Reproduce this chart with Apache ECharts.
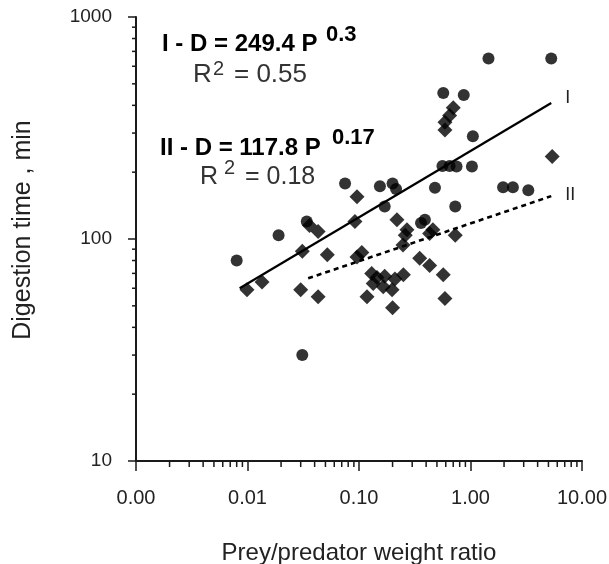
<!DOCTYPE html>
<html>
<head>
<meta charset="utf-8">
<script src="https://cdn.jsdelivr.net/npm/echarts@6/dist/echarts.min.js"></script>
<style>html,body{margin:0;padding:0;background:#fff}#c{width:609px;height:564px}</style>
</head>
<body>
<div id="c"></div>
<script>
// ---- data ----
const circlePoints = [
  [0.008, 80], [0.019, 104], [0.031, 30], [0.034, 120], [0.075, 178],
  [0.154, 173], [0.20, 178], [0.215, 168], [0.17, 140], [0.48, 170], [0.73, 140],
  [0.56, 213], [0.65, 213], [0.75, 212], [1.03, 212],
  [1.96, 171], [2.4, 171], [3.3, 166],
  [1.45, 650], [5.3, 650], [0.57, 455], [0.87, 445], [1.05, 290],
  [0.39, 122], [0.36, 118]
];
const diamondPoints = [
  [0.0099, 59], [0.0135, 64], [0.030, 59], [0.043, 55], [0.031, 88], [0.052, 85],
  [0.043, 108], [0.036, 115], [0.092, 120], [0.096, 155], [0.106, 87], [0.096, 83],
  [0.118, 55], [0.20, 49], [0.198, 59], [0.145, 67], [0.25, 69], [0.13, 70],
  [0.17, 68], [0.21, 66], [0.134, 63], [0.165, 61],
  [0.219, 122], [0.269, 110], [0.248, 94], [0.26, 104], [0.46, 110],
  [0.35, 82], [0.43, 76], [0.57, 69], [0.59, 54], [0.73, 104], [0.43, 106],
  [0.70, 390], [0.65, 360], [0.59, 336], [0.59, 310], [5.4, 235]
];
const fitLineI = [[0.0085, 60], [5.3, 410]];
const fitLineII = [[0.035, 66.5], [5.3, 156]];
const xTickLabels = ['0.00', '0.01', '0.10', '1.00', '10.00'];
const yTickLabels = ['10', '100', '1000'];
const xMinorTicks = [0.002,0.003,0.004,0.005,0.006,0.007,0.008,0.009,
  0.02,0.03,0.04,0.05,0.06,0.07,0.08,0.09,
  0.2,0.3,0.4,0.5,0.6,0.7,0.8,0.9,
  2,3,4,5,6,7,8,9];
const yMinorTicks = [20,30,40,50,60,70,80,90,200,300,400,500,600,700,800,900];
const xTitle = 'Prey/predator weight ratio';
const yTitle = 'Digestion time , min';

const FONT = '"Liberation Sans", Arial, sans-serif';
const INK = '#1a1a1a';
const chart = echarts.init(document.getElementById('c'), null, {renderer: 'canvas'});

function minorX(params, api) {
  const p = api.coord([api.value(0), api.value(1)]);
  return {type: 'line', shape: {x1: p[0], y1: p[1], x2: p[0], y2: p[1] + 6},
    style: {stroke: INK, lineWidth: 1.5}};
}
function minorY(params, api) {
  const p = api.coord([api.value(0), api.value(1)]);
  return {type: 'line', shape: {x1: p[0], y1: p[1], x2: p[0] - 4, y2: p[1]},
    style: {stroke: INK, lineWidth: 1.5}};
}

const option = {
  animation: false,
  backgroundColor: '#fff',
  grid: {left: 136, right: 27, top: 17, bottom: 103, containLabel: false, outerBoundsMode: 'none'},
  xAxis: {
    type: 'log', logBase: 10, min: 0.001, max: 10, splitNumber: 4,
    name: xTitle, nameLocation: 'middle', nameGap: 80,
    nameTextStyle: {fontFamily: FONT, fontSize: 24, color: '#222'},
    axisLine: {lineStyle: {color: INK, width: 2}},
    axisTick: {show: true, length: 10, lineStyle: {color: INK, width: 1.5}},
    minorTick: {show: false},
    splitLine: {show: false},
    axisLabel: {
      fontFamily: FONT, fontSize: 20, color: '#222', margin: 27,
      formatter: v => xTickLabels[Math.round(Math.log10(v)) + 3]
    }
  },
  yAxis: {
    type: 'log', logBase: 10, min: 10, max: 1000, splitNumber: 2,
    name: yTitle, nameLocation: 'middle', nameGap: 100, nameRotate: 90,
    nameTextStyle: {fontFamily: FONT, fontSize: 25, color: '#222', padding: [0, 0, 0, 18]},
    axisLine: {lineStyle: {color: INK, width: 2}},
    axisTick: {show: true, length: 8, lineStyle: {color: INK, width: 1.5}},
    splitLine: {show: false},
    axisLabel: {
      fontFamily: FONT, fontSize: 19, color: '#222', margin: 24,
      formatter: v => yTickLabels[Math.round(Math.log10(v)) - 1]
    }
  },
  series: [
    {type: 'custom', data: xMinorTicks.map(v => [v, 10]), renderItem: minorX, clip: false, silent: true, z: 1},
    {type: 'custom', data: yMinorTicks.map(v => [0.001, v]), renderItem: minorY, clip: false, silent: true, z: 1},
    {type: 'scatter', data: circlePoints, symbol: 'circle', symbolSize: 12,
      itemStyle: {color: '#000'}, z: 3},
    {type: 'scatter', data: diamondPoints, symbol: 'diamond', symbolSize: 15,
      itemStyle: {color: '#000'}, z: 3},
    {type: 'line', data: fitLineI, symbol: 'none', z: 4,
      lineStyle: {color: '#000', width: 2.2, type: 'solid'},
      endLabel: {show: true, formatter: 'I', fontFamily: FONT, fontSize: 18, color: '#222', offset: [6, -5]}},
    {type: 'line', data: fitLineII, symbol: 'none', z: 4,
      lineStyle: {color: '#000', width: 2.6, type: [5, 4]},
      endLabel: {show: true, formatter: 'II', fontFamily: FONT, fontSize: 18, color: '#222', offset: [6, -1]}}
  ],
  graphic: [
    {type: 'text', left: 162, top: 32, style: {text: 'I - D = 249.4 P', font: 'bold 24px ' + FONT, fill: '#000'}},
    {type: 'text', left: 326, top: 24, style: {text: '0.3', font: 'bold 22px ' + FONT, fill: '#000'}},
    {type: 'text', left: 193, top: 62, style: {text: 'R', font: '26px ' + FONT, fill: '#333'}},
    {type: 'text', left: 213, top: 59, style: {text: '2', font: '20px ' + FONT, fill: '#333'}},
    {type: 'text', left: 234, top: 62, style: {text: '= 0.55', font: '26px ' + FONT, fill: '#333'}},
    {type: 'text', left: 160, top: 136, style: {text: 'II - D = 117.8 P', font: 'bold 24px ' + FONT, fill: '#000'}},
    {type: 'text', left: 332, top: 127, style: {text: '0.17', font: 'bold 22px ' + FONT, fill: '#000'}},
    {type: 'text', left: 200, top: 165, style: {text: 'R', font: '25px ' + FONT, fill: '#333'}},
    {type: 'text', left: 224, top: 158, style: {text: '2', font: '20px ' + FONT, fill: '#333'}},
    {type: 'text', left: 245, top: 165, style: {text: '= 0.18', font: '25px ' + FONT, fill: '#333'}}
  ]
};
chart.setOption(option);
</script>
</body>
</html>
